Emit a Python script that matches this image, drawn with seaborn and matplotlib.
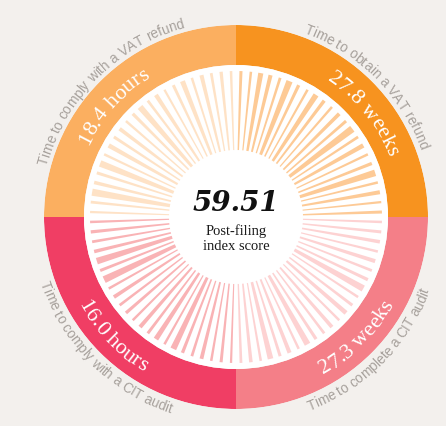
import numpy as np
import seaborn as sns
from matplotlib import pyplot as plt
from matplotlib.font_manager import FontProperties, findfont, get_font

try:
    from matplotlib.ft2font import LoadFlags
    NO_HINT = LoadFlags.NO_HINTING
except ImportError:
    NO_HINT = 2

sns.set_theme(style='white')
plt.rcParams['font.family'] = ['Liberation Sans', 'DejaVu Sans']

# quadrants, counter-clockwise from the east
quad_start = [0, 90, 180, 270]
metric_names = ['Time to obtain a VAT refund', 'Time to comply with a VAT refund',
                'Time to comply with a CIT audit', 'Time to complete a CIT audit']
metric_values = ['27.8 weeks', '18.4 hours', '16.0 hours', '27.3 weeks']
value_angle = [39, 138, 224, 315]
ring_colors = ['#f7931f', '#fbaf60', '#f03e64', '#f47f88']
bar_colors = ['#fdca96', '#fee2c6', '#f9b3b5', '#fdd2d2']

# angular width (degrees) of the radial bars in each quadrant
bars_tr = [1.2, 0.9, 1.6, 1.0, 2.6, 1.3, 1.0, 1.8, 1.1, 2.8, 1.2, 1.5, 1.0,
           1.4, 2.2, 1.0, 1.3, 2.5, 1.1, 1.6, 2.0, 1.0, 1.2]
bars_tl = [1.0, 1.3, 1.1, 1.6, 1.0, 2.0, 1.2, 0.9, 1.7, 1.1, 2.4, 1.3, 1.0,
           1.5, 1.2, 1.8, 1.0, 2.6, 1.2, 1.4, 2.8, 1.1, 0.9]
bars_bl = [1.0, 1.3, 1.1, 1.4, 2.6, 1.2, 2.8, 1.0, 1.5, 1.1, 1.3, 1.0, 1.6,
           1.2, 2.0, 1.0, 2.4, 1.3, 1.1, 1.5, 1.0, 1.2, 0.9]
bars_br = [1.1, 1.4, 1.0, 2.2, 1.2, 1.6, 1.0, 2.4, 1.3, 1.1, 1.5, 1.0, 1.8,
           1.2, 1.0, 2.6, 1.3, 1.1, 1.6, 1.0, 1.4, 1.2, 1.0]
bar_widths = [bars_tr, bars_tl, bars_bl, bars_br]

score = '59.51'
score_label = 'Post-filing\nindex score'

BG = '#f3f0ed'
R_OUT, R_RING, R_BAR_OUT, R_BAR_IN = 192, 152, 146, 67


def char_advances(text, family, size, weight='normal'):
    fp = FontProperties(family=family, size=size, weight=weight)
    font = get_font(findfont(fp))
    font.set_size(size, 100)
    adv = []
    for ch in text:
        g = font.load_char(ord(ch), flags=NO_HINT)
        adv.append(g.linearHoriAdvance / 65536)
    return np.array(adv)


def curved_text(ax, text, theta_mid, radius, family, size, color, clockwise=True, **kw):
    adv = char_advances(text, family, size, kw.get('weight', 'normal'))
    centers = np.cumsum(adv) - adv / 2 - adv.sum() / 2
    for ch, c in zip(text, centers):
        d = np.degrees(c / radius)
        if clockwise:
            th = theta_mid - d
            rot = th - 90
        else:
            th = theta_mid + d
            rot = th + 90
        ax.text(np.radians(th), radius, ch, rotation=rot, rotation_mode='anchor',
                ha='center', va='baseline', family=family, fontsize=size, color=color, **kw)


fig = plt.figure(figsize=(4.46, 4.26), dpi=100, facecolor=BG)
ax = fig.add_axes([(236 - R_OUT) / 446, (426 - 217 - R_OUT) / 426, 2 * R_OUT / 446, 2 * R_OUT / 426],
                  projection='polar')
ax.set_axis_off()
ax.set_ylim(0, R_OUT)

# coloured ring and white disc
for start, col in zip(quad_start, ring_colors):
    ax.bar(np.radians(start + 45), R_OUT - R_RING, width=np.radians(90), bottom=R_RING,
           color=col, linewidth=0)
ax.bar(0, R_RING, width=2 * np.pi, bottom=0, color='white', linewidth=0)

# radial bars
for start, widths, col in zip(quad_start, bar_widths, bar_colors):
    n = len(widths)
    step = 90 / n
    theta = np.radians(start + step * (np.arange(n) + 0.5))
    ax.bar(theta, R_BAR_OUT - R_BAR_IN, width=np.radians(widths), bottom=R_BAR_IN,
           color=col, linewidth=0)

# labels
for i, (start, name, val) in enumerate(zip(quad_start, metric_names, metric_values)):
    top = start < 180
    curved_text(ax, name, start + 45, 196 if top else 207, 'Liberation Sans', 9.8,
                '#a7a19c', clockwise=top)
    curved_text(ax, val, value_angle[i], 164 if top else 180, 'Liberation Serif', 16,
                'white', clockwise=top)

ax.text(0.5, 0.534, score, transform=ax.transAxes, ha='center', va='center',
        family='DejaVu Serif', fontsize=20, fontweight='bold', fontstyle='italic', color='#111111')
ax.text(0.5, 0.444, score_label, transform=ax.transAxes, ha='center', va='center',
        family='Liberation Serif', fontsize=10.5, color='#1a1a1a', linespacing=1.15)

plt.savefig('out.png', dpi=100, facecolor=BG)
